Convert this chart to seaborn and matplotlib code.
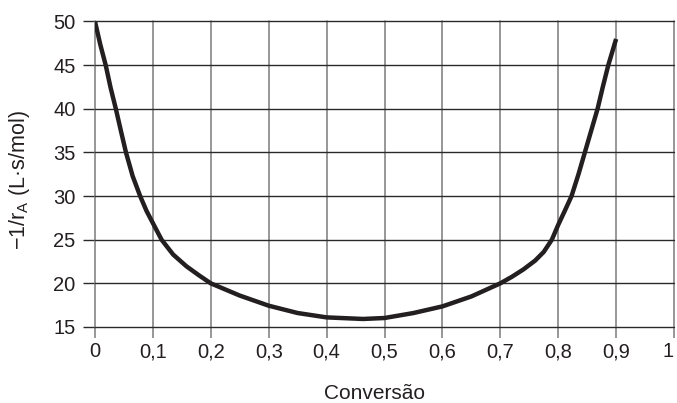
import matplotlib
matplotlib.use("Agg")
import matplotlib.pyplot as plt
import seaborn as sns
import pandas as pd

# values
conversao = [0, 0.009, 0.0185, 0.027, 0.036, 0.045, 0.0535, 0.065, 0.078, 0.089, 0.1,
             0.115, 0.135, 0.158, 0.18, 0.2, 0.25, 0.3, 0.35, 0.4, 0.463,
             0.5, 0.55, 0.6, 0.65, 0.7, 0.72, 0.74, 0.76, 0.775, 0.789, 0.8,
             0.812, 0.823, 0.835, 0.846, 0.857, 0.868, 0.877, 0.8865, 0.9]
inv_rate = [50, 47.4, 45, 42.4, 40, 37.4, 35, 32.3, 30, 28.3, 26.9,
            25, 23.3, 21.95, 20.9, 20, 18.6, 17.44, 16.6, 16.1, 15.92,
            16.03, 16.6, 17.36, 18.5, 20, 20.75, 21.6, 22.6, 23.6, 25, 26.7,
            28.4, 30, 32.5, 35, 37.5, 40, 42.5, 45, 48]

x_ticks = [0, 0.1, 0.2, 0.3, 0.4, 0.5, 0.6, 0.7, 0.8, 0.9, 1]
x_labels = ["0", "0,1", "0,2", "0,3", "0,4", "0,5", "0,6", "0,7", "0,8", "0,9", "1"]
y_ticks = [15, 20, 25, 30, 35, 40, 45, 50]

df = pd.DataFrame({"x": conversao, "y": inv_rate})

sns.set_style("white")
plt.rcParams["font.family"] = ["Liberation Sans", "DejaVu Sans"]

fig = plt.figure(figsize=(6.77, 4.03), dpi=100)
ax = fig.add_axes([0.1403, 0.1886, 0.8553, 0.7581])

sns.lineplot(data=df, x="x", y="y", ax=ax, color="#231f20", linewidth=3.2,
             sort=False, zorder=5)
ax.lines[0].set_solid_joinstyle("round")
ax.lines[0].set_solid_capstyle("butt")

ax.set_xlim(0, 1)
ax.set_ylim(15, 50)
ax.set_xticks(x_ticks)
ax.set_xticklabels(x_labels)
ax.set_yticks(y_ticks)

for v in x_ticks:
    ax.axvline(v, color="#7a7a7a", linewidth=1.1, zorder=1, clip_on=False)
for v in y_ticks:
    ax.axhline(v, color="#2a2a2a", linewidth=1.0, zorder=2, clip_on=False)

for s in ax.spines.values():
    s.set_visible(False)

ax.tick_params(axis="x", direction="out", length=8, width=1.1, color="#7a7a7a",
               pad=3, labelsize=14.5, labelcolor="#231f20", bottom=True)
ax.tick_params(axis="y", direction="out", length=8.5, width=1.0, color="#2a2a2a",
               pad=5.5, labelsize=14.5, labelcolor="#231f20", left=True)
ax.get_xticklabels()[-1].set_horizontalalignment("right")

ax.set_xlabel("Conversão", fontsize=15, color="#231f20")
ax.xaxis.set_label_coords(0.482, -0.187)
ax.set_ylabel(r"−1/r$_{\mathregular{A}}$ (L·s/mol)", fontsize=15.5, color="#231f20")
ax.yaxis.set_label_coords(-0.109, 0.48)

fig.savefig("out.png", dpi=100)
